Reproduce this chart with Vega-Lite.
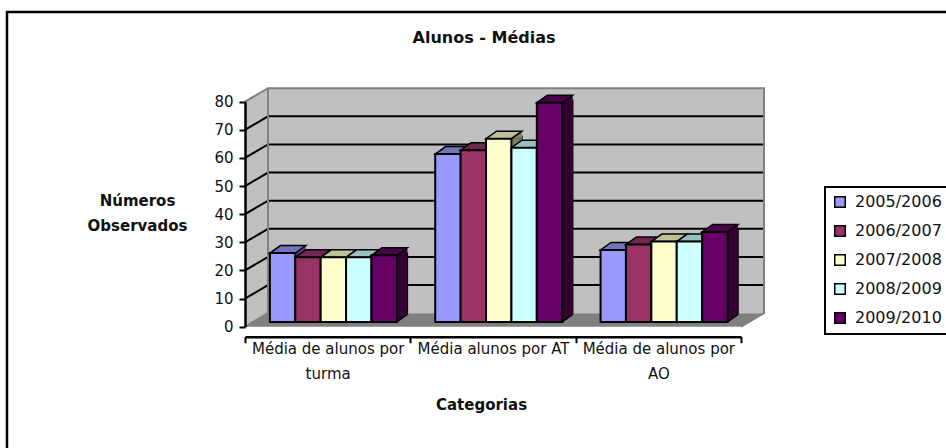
{
"$schema":"https://vega.github.io/schema/vega-lite/v6.json",
"autosize":"none",
"padding":{"left":7,"top":12,"right":0,"bottom":0},
"width":960,"height":460,
"background":"white",
"view":{"stroke":"black","strokeWidth":2.5,"fill":"white"},
"title":{"text":"Alunos - Médias","font":"DejaVu Sans","fontSize":16,"fontWeight":"bold","color":"#111","anchor":"middle","offset":0,"dx":-3,"dy":34},
"datasets":{
"valores":[
{"categoria":"Média de alunos por turma","ano":"2005/2006","valor":24.5},
{"categoria":"Média de alunos por turma","ano":"2006/2007","valor":23},
{"categoria":"Média de alunos por turma","ano":"2007/2008","valor":23},
{"categoria":"Média de alunos por turma","ano":"2008/2009","valor":23},
{"categoria":"Média de alunos por turma","ano":"2009/2010","valor":23.7},
{"categoria":"Média alunos por AT","ano":"2005/2006","valor":59.7},
{"categoria":"Média alunos por AT","ano":"2006/2007","valor":61.1},
{"categoria":"Média alunos por AT","ano":"2007/2008","valor":65.2},
{"categoria":"Média alunos por AT","ano":"2008/2009","valor":62},
{"categoria":"Média alunos por AT","ano":"2009/2010","valor":78},
{"categoria":"Média de alunos por AO","ano":"2005/2006","valor":25.6},
{"categoria":"Média de alunos por AO","ano":"2006/2007","valor":27.6},
{"categoria":"Média de alunos por AO","ano":"2007/2008","valor":28.6},
{"categoria":"Média de alunos por AO","ano":"2008/2009","valor":28.6},
{"categoria":"Média de alunos por AO","ano":"2009/2010","valor":32}
],
"origem":[{"categoria":"Média de alunos por turma","valor":0}],
"grelha":[
{"categoria":"Média de alunos por turma","valor":10},
{"categoria":"Média de alunos por turma","valor":20},
{"categoria":"Média de alunos por turma","valor":30},
{"categoria":"Média de alunos por turma","valor":40},
{"categoria":"Média de alunos por turma","valor":50},
{"categoria":"Média de alunos por turma","valor":60},
{"categoria":"Média de alunos por turma","valor":70}
]
},
"encoding":{
"x":{"field":"categoria","type":"nominal","sort":null,
"scale":{"type":"band","domain":["Média de alunos por turma","Média alunos por AT","Média de alunos por AO"],"range":[238,734],"paddingInner":0,"paddingOuter":0},
"axis":{"offset":-135.3,"title":"Categorias","titleFont":"DejaVu Sans","titleFontSize":15,"titleFontWeight":"bold","titleColor":"#111","titleX":474,"titleY":68,"titleBaseline":"middle","titleAnchor":"middle","labelAngle":0,"labelFont":"DejaVu Sans","labelFontSize":15,"labelColor":"#111","labelLineHeight":25,"labelOverlap":false,"labelBound":false,"labelFlush":false,"labelPadding":-1,"labelLimit":300,"tickBand":"extent","tickColor":"black","tickWidth":2,"tickSize":6,"domainColor":"black","domainWidth":2.5,"zindex":1,
"labelExpr":"datum.label == 'Média de alunos por turma' ? ['Média de alunos por','turma'] : datum.label == 'Média de alunos por AO' ? ['Média de alunos por','AO'] : datum.label"}},
"y":{"field":"valor","type":"quantitative",
"scale":{"domain":[0,80],"range":[314.7,89.7],"nice":false},
"axis":{"offset":-238,"values":[0,10,20,30,40,50,60,70,80],"grid":false,"title":["Números","Observados"],"titleFont":"DejaVu Sans","titleFontSize":15,"titleFontWeight":"bold","titleColor":"#111","titleAngle":0,"titleLineHeight":25,"titleX":-108,"titleY":188,"titleAlign":"center","titleBaseline":"middle","labelFont":"DejaVu Sans","labelFontSize":15,"labelColor":"#111","labelPadding":6,"tickColor":"black","tickWidth":2,"tickSize":6,"domainColor":"black","domainWidth":2.5,"zindex":1}}
},
"layer":[
{"data":{"name":"origem"},
"mark":{"type":"point","filled":true,"opacity":1,"size":4,"fill":"#C0C0C0","shape":"M23 -13.5 V-238.5 H519 V-13.5 Z M0 0 L23 -13.5 V-238.5 L0 -225 Z"},
"encoding":{"x":{"field":"categoria","type":"nominal","bandPosition":0}}},
{"data":{"name":"origem"},
"mark":{"type":"point","filled":true,"opacity":1,"size":4,"fill":"#808080","shape":"M0 0 H496 L519 -13.5 H23 Z"},
"encoding":{"x":{"field":"categoria","type":"nominal","bandPosition":0}}},
{"data":{"name":"grelha"},
"mark":{"type":"point","filled":false,"opacity":1,"size":4,"stroke":"black","strokeWidth":2,"shape":"M0 0 L23 -13.5 H519"},
"encoding":{"x":{"field":"categoria","type":"nominal","bandPosition":0}}},
{"data":{"name":"origem"},
"mark":{"type":"point","filled":false,"opacity":1,"size":4,"stroke":"#808080","strokeWidth":2,"shape":"M0 -225 L23 -238.5 H519 V-13.5 L496 0 M23 -238.5 V-13.5 L0 0"},
"encoding":{"x":{"field":"categoria","type":"nominal","bandPosition":0}}},
{"data":{"name":"valores"},
"mark":{"type":"rule","color":"black","strokeWidth":12,"strokeCap":"butt","yOffset":-7.5,"y2Offset":-12.2},
"encoding":{"y2":{"datum":0},
"xOffset":{"field":"ano","type":"nominal","scale":{"type":"band","range":[42.82,169.82],"paddingInner":0,"paddingOuter":0}}}},
{"data":{"name":"valores"},
"mark":{"type":"rule","strokeWidth":10.5,"strokeCap":"butt","yOffset":-4.7,"y2Offset":-12.2},
"encoding":{"y2":{"datum":0},
"xOffset":{"field":"ano","type":"nominal","scale":{"type":"band","range":[42.82,169.82],"paddingInner":0,"paddingOuter":0}},
"color":{"field":"ano","type":"nominal","legend":null,"scale":{"domain":["2005/2006","2006/2007","2007/2008","2008/2009","2009/2010"],"range":["#4C4C80","#4C1933","#808066","#668080","#330033"]}}}},
{"data":{"name":"valores"},
"mark":{"type":"point","filled":true,"opacity":1,"size":4,"yOffset":-4.7,"shape":"M12.7 0 L23.2 -7.5 V0 Z"},
"encoding":{
"xOffset":{"field":"ano","type":"nominal","scale":{"type":"band","paddingInner":0,"paddingOuter":0.755,"align":0.649}},
"color":{"field":"ano","type":"nominal","legend":null,"scale":{"domain":["2005/2006","2006/2007","2007/2008","2008/2009","2009/2010"],"range":["#4C4C80","#4C1933","#808066","#668080","#330033"]}}}},
{"data":{"name":"valores"},
"mark":{"type":"point","filled":true,"opacity":1,"size":4,"yOffset":-4.7,"shape":"M12.7 0 L23.2 -7.5 H12.7 Z"},
"encoding":{"y":{"datum":0},
"xOffset":{"field":"ano","type":"nominal","scale":{"type":"band","paddingInner":0,"paddingOuter":0.755,"align":0.649}},
"color":{"field":"ano","type":"nominal","legend":null,"scale":{"domain":["2005/2006","2006/2007","2007/2008","2008/2009","2009/2010"],"range":["#4C4C80","#4C1933","#808066","#668080","#330033"]}}}},
{"data":{"name":"valores"},
"mark":{"type":"point","filled":false,"opacity":1,"size":4,"stroke":"black","strokeWidth":1.5,"yOffset":-4.7,"shape":"M12.7 0 L23.2 -7.5"},
"encoding":{"y":{"datum":0},"xOffset":{"field":"ano","type":"nominal","scale":{"type":"band","paddingInner":0,"paddingOuter":0.755,"align":0.649}}}},
{"data":{"name":"valores"},
"mark":{"type":"point","filled":true,"opacity":1,"size":4,"stroke":"black","strokeWidth":1.5,"yOffset":-4.7,"shape":"M-12.7 0 H12.7 L23.2 -7.5 H-2.2 Z"},
"encoding":{
"xOffset":{"field":"ano","type":"nominal","scale":{"type":"band","paddingInner":0,"paddingOuter":0.755,"align":0.649}},
"color":{"field":"ano","type":"nominal","legend":null,"scale":{"domain":["2005/2006","2006/2007","2007/2008","2008/2009","2009/2010"],"range":["#7373BF","#732650","#BFBF99","#99BFBF","#4C004C"]}}}},
{"data":{"name":"valores"},
"mark":{"type":"bar","stroke":"black","strokeWidth":2,"yOffset":-4.7,"y2Offset":-4.7},
"encoding":{"y2":{"datum":0},
"xOffset":{"field":"ano","type":"nominal","scale":{"type":"band","paddingInner":0,"paddingOuter":0.755,"align":0.649}},
"color":{"field":"ano","type":"nominal","title":null,
"scale":{"domain":["2005/2006","2006/2007","2007/2008","2008/2009","2009/2010"],"range":["#9999FF","#993366","#FFFFCC","#CCFFFF","#660066"]},
"legend":{"orient":"none","legendX":818,"legendY":175,"fillColor":"white","strokeColor":"black","padding":7,"symbolType":"square","symbolSize":110,"symbolStrokeColor":"black","symbolStrokeWidth":1.5,"symbolOpacity":1,"labelFont":"DejaVu Sans","labelFontSize":16,"labelColor":"#111","labelOffset":7,"rowPadding":11,"labelLimit":200}}}}
],
"resolve":{"scale":{"color":"independent","xOffset":"independent"}},
"config":{"legend":{"strokeWidth":2}}
}
